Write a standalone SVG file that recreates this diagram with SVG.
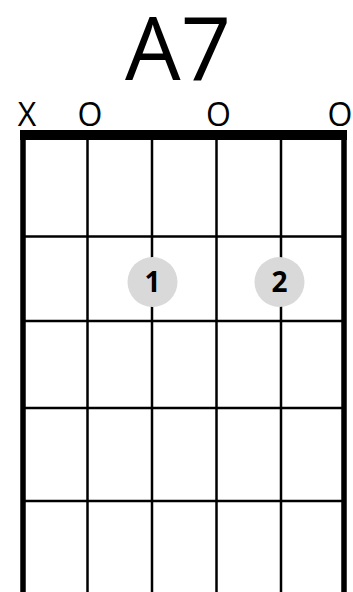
<svg xmlns="http://www.w3.org/2000/svg" width="353" height="592" viewBox="0 0 353 592">
<style>
.str{stroke:#000;stroke-width:2.5}
.edge{stroke:#000;stroke-width:5.5}
.fret{stroke:#000;stroke-width:2.5}
.dot{fill:#d9d9d9}
.fn{font-family:"Open Sans","Liberation Sans",sans-serif;font-weight:bold;font-size:28px;text-anchor:middle;fill:#000}
.mk{font-family:"Open Sans","Liberation Sans",sans-serif;font-size:32px;text-anchor:middle;fill:#000}
.title{font-family:"Open Sans","Liberation Sans",sans-serif;font-size:88px;text-anchor:middle;fill:#000}
</style>
<rect width="353" height="592" fill="#fff"/>
<text id="title" class="title" x="178" y="80">A7</text>
<g id="markers">
<text class="mk" x="27" y="126">X</text>
<text class="mk" x="90" y="126">O</text>
<text class="mk" x="218.5" y="126">O</text>
<text class="mk" x="340" y="126">O</text>
</g>
<g id="grid">
<rect id="nut" x="20" y="130" width="327" height="10" fill="#000"/>
<line class="edge" x1="23" y1="130" x2="23" y2="592"/>
<line class="edge" x1="344" y1="130" x2="344" y2="592"/>
<line class="str" x1="87.5" y1="138" x2="87.5" y2="592"/>
<line class="str" x1="152" y1="138" x2="152" y2="592"/>
<line class="str" x1="216.5" y1="138" x2="216.5" y2="592"/>
<line class="str" x1="281" y1="138" x2="281" y2="592"/>
<line class="fret" x1="23" y1="236.5" x2="344" y2="236.5"/>
<line class="fret" x1="23" y1="321" x2="344" y2="321"/>
<line class="fret" x1="23" y1="408" x2="344" y2="408"/>
<line class="fret" x1="23" y1="501" x2="344" y2="501"/>
</g>
<g id="finger1">
<circle class="dot" cx="152.5" cy="282" r="25"/>
<text class="fn" x="152.5" y="292">1</text>
</g>
<g id="finger2">
<circle class="dot" cx="279.5" cy="282" r="25"/>
<text class="fn" x="279.5" y="292">2</text>
</g>
</svg>
